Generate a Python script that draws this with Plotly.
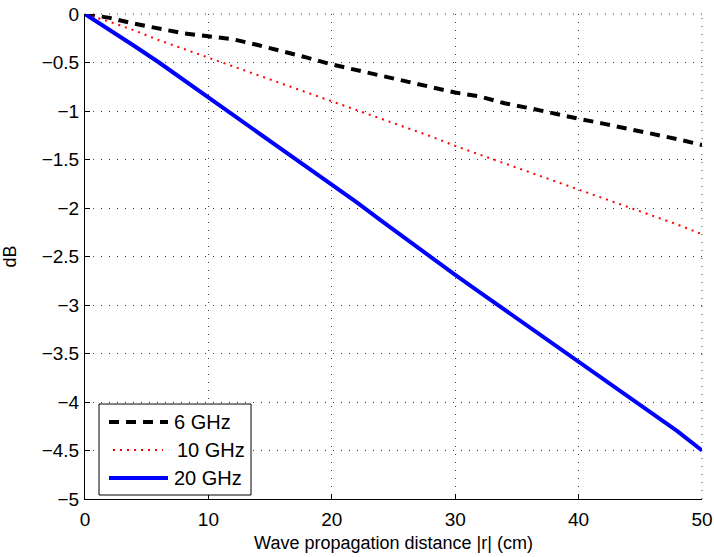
import plotly.graph_objects as go

distance_cm = [0, 2, 4, 6, 8, 10, 12, 14, 16, 18, 20, 22, 24, 26, 28, 30, 32, 34, 36, 38, 40, 42, 44, 46, 48, 50]
db_6ghz = [0, -0.04, -0.10, -0.15, -0.20, -0.23, -0.26, -0.32, -0.38, -0.45, -0.52, -0.58, -0.63, -0.69, -0.76,
           -0.81, -0.85, -0.92, -0.97, -1.03, -1.08, -1.13, -1.18, -1.24, -1.29, -1.35]
db_10ghz = [0, -0.08, -0.17, -0.27, -0.36, -0.45, -0.54, -0.63, -0.72, -0.81, -0.90, -0.99, -1.08, -1.17, -1.26,
            -1.36, -1.45, -1.54, -1.63, -1.72, -1.81, -1.90, -1.99, -2.08, -2.17, -2.27]
db_20ghz = [0, -0.16, -0.33, -0.50, -0.68, -0.86, -1.03, -1.22, -1.40, -1.58, -1.76, -1.94, -2.13, -2.32, -2.50,
            -2.69, -2.87, -3.05, -3.23, -3.40, -3.58, -3.76, -3.95, -4.13, -4.30, -4.50]
series_names = ["6 GHz", "10 GHz", "20 GHz"]
x_ticks = [0, 10, 20, 30, 40, 50]
y_ticks = [0, -0.5, -1, -1.5, -2, -2.5, -3, -3.5, -4, -4.5, -5]
y_tick_text = ["0", "−0.5", "−1", "−1.5", "−2", "−2.5", "−3", "−3.5", "−4", "−4.5", "−5"]

FONT = "Liberation Sans, Arial"
W, H = 714, 557
ML, MR, MT, MB = 85, 12, 14, 58
PW, PH = W - ML - MR, H - MT - MB
GRID_COLOR = "#3a3a3a"
GRID_DASH = "1px,7px"

styles = [
    dict(color="black", width=4, dash="10px,7px"),
    dict(color="red", width=2, dash="2px,5px"),
    dict(color="blue", width=4),
]

fig = go.Figure()
for name, ys, st in zip(series_names, [db_6ghz, db_10ghz, db_20ghz], styles):
    fig.add_trace(go.Scatter(x=distance_cm, y=ys, mode="lines", name=name, line=st, showlegend=False))

axis_common = dict(showgrid=True, gridcolor=GRID_COLOR, griddash=GRID_DASH, gridwidth=1,
                   showline=True, linecolor="black", linewidth=1, ticks="inside", ticklen=5,
                   tickcolor="black", zeroline=False, automargin=False,
                   tickfont=dict(family=FONT, size=19, color="black"))

fig.update_xaxes(range=[0, 50], tickvals=x_ticks, ticklabelstandoff=3,
                 title=dict(text="Wave propagation distance |r| (cm)", standoff=7,
                            font=dict(family=FONT, size=18, color="black")),
                 **axis_common)
fig.update_yaxes(range=[-5, 0], tickvals=y_ticks, ticktext=y_tick_text, ticklabelstandoff=1,
                 title=dict(text="dB", standoff=20,
                            font=dict(family=FONT, size=18, color="black")),
                 **axis_common)


def px(xp):
    return (xp - ML) / PW


def py(yp):
    return (H - MB - yp) / PH


# dotted grid lines along the top and right edges of the plot box
shapes = [
    dict(type="line", xref="paper", yref="paper", x0=0, x1=1, y0=1, y1=1,
         line=dict(color=GRID_COLOR, width=1, dash=GRID_DASH), layer="below"),
    dict(type="line", xref="paper", yref="paper", x0=1, x1=1, y0=0, y1=1,
         line=dict(color=GRID_COLOR, width=1, dash=GRID_DASH), layer="below"),
]
# legend box
shapes.append(dict(type="rect", xref="paper", yref="paper", x0=px(99), x1=px(251), y0=py(404), y1=py(495),
                   line=dict(color="black", width=1), fillcolor="white", layer="above"))
annotations = []
legend_rows = [(422, 109, 168, 172), (450, 113, 163, 175), (478, 109, 168, 172)]
for (yy, xa, xb, xt), name, st in zip(legend_rows, series_names, styles):
    shapes.append(dict(type="line", xref="paper", yref="paper", x0=px(xa), x1=px(xb), y0=py(yy), y1=py(yy),
                       line=st, layer="above"))
    annotations.append(dict(text=name, xref="paper", yref="paper", x=px(xt), y=py(yy), xanchor="left",
                            yanchor="middle", showarrow=False, font=dict(family=FONT, size=20, color="black")))

fig.update_layout(
    width=W, height=H,
    margin=dict(l=ML, r=MR, t=MT, b=MB),
    plot_bgcolor="white", paper_bgcolor="white",
    font=dict(family=FONT, size=18, color="black"),
    shapes=shapes, annotations=annotations,
    showlegend=False,
)

fig.write_html("out.html")
